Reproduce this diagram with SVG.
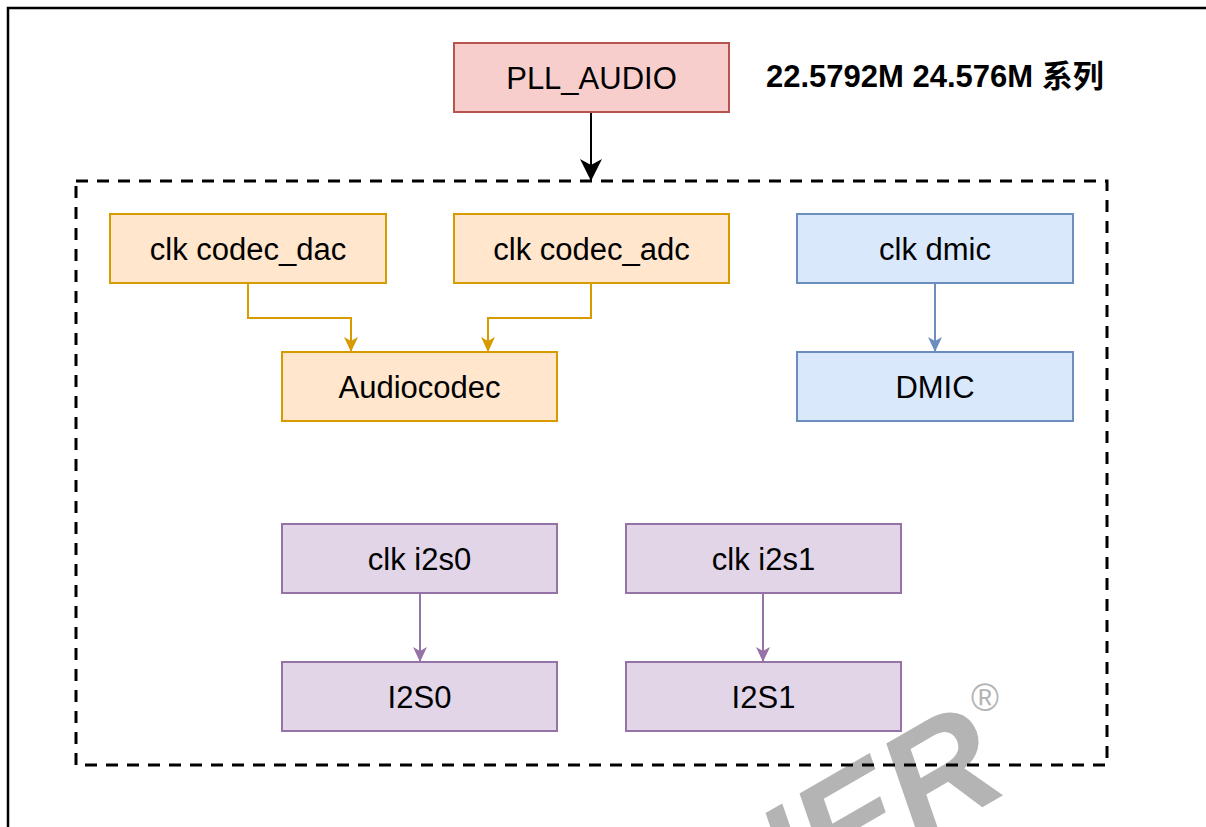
<svg xmlns="http://www.w3.org/2000/svg" width="1206" height="827" viewBox="0 0 1206 827">
<style>
.t{font-family:"Liberation Sans",Arial,Helvetica,sans-serif;font-size:31px;fill:#000;text-anchor:middle}
.title{font-family:"Liberation Sans",Arial,"Noto Sans CJK SC",sans-serif;font-size:31px;font-weight:bold;fill:#000}
.red{fill:#f8cecc;stroke:#b85450;stroke-width:2}
.org{fill:#ffe6cc;stroke:#d79b00;stroke-width:2}
.blu{fill:#dae8fc;stroke:#6c8ebf;stroke-width:2}
.pur{fill:#e1d5e7;stroke:#9673a6;stroke-width:2}
.c{fill:none;stroke-width:2}
.wm{font-family:"Liberation Sans",Arial,sans-serif;font-weight:bold;font-style:italic;fill:#b4b4b4}
</style>
<defs>
<marker id="aBlk" markerUnits="userSpaceOnUse" markerWidth="24" markerHeight="24" refX="22" refY="11" orient="auto" viewBox="0 0 24 22">
<path d="M0,0 L22,11 L0,22 L6,11 Z" fill="#000"/>
</marker>
<marker id="aOrg" markerUnits="userSpaceOnUse" markerWidth="16" markerHeight="16" refX="15" refY="7" orient="auto" viewBox="0 0 16 14">
<path d="M0,0 L15,7 L0,14 L4,7 Z" fill="#d79b00"/>
</marker>
<marker id="aBlu" markerUnits="userSpaceOnUse" markerWidth="16" markerHeight="16" refX="15" refY="7" orient="auto" viewBox="0 0 16 14">
<path d="M0,0 L15,7 L0,14 L4,7 Z" fill="#6c8ebf"/>
</marker>
<marker id="aPur" markerUnits="userSpaceOnUse" markerWidth="16" markerHeight="16" refX="15" refY="7" orient="auto" viewBox="0 0 16 14">
<path d="M0,0 L15,7 L0,14 L4,7 Z" fill="#9673a6"/>
</marker>
</defs>
<rect x="0" y="0" width="1206" height="827" fill="#fff"/>
<rect x="8" y="8" width="1240" height="900" fill="none" stroke="#000" stroke-width="2.5"/>
<g id="watermark">
<text class="wm" font-size="150" text-anchor="end" transform="translate(1012,790) rotate(-30)">ALLWINNER</text>
<text x="985" y="711" font-family="Liberation Sans,Arial,sans-serif" font-size="38" fill="#b4b4b4" text-anchor="middle">®</text>
</g>
<g id="group-frame">
<rect x="76" y="181" width="1031" height="584" fill="none" stroke="#000" stroke-width="3" stroke-dasharray="12 9"/>
</g>
<text class="title" x="766" y="87">22.5792M 24.576M 系列</text>
<g id="connectors">
<path class="c" d="M591,112 V181" stroke="#000" stroke-width="3" marker-end="url(#aBlk)"/>
<path class="c" d="M248,283 V318 H351 V352" stroke="#d79b00" marker-end="url(#aOrg)"/>
<path class="c" d="M591,283 V318 H488 V352" stroke="#d79b00" marker-end="url(#aOrg)"/>
<path class="c" d="M935,283 V352" stroke="#6c8ebf" marker-end="url(#aBlu)"/>
<path class="c" d="M420,593 V662" stroke="#9673a6" marker-end="url(#aPur)"/>
<path class="c" d="M763,593 V662" stroke="#9673a6" marker-end="url(#aPur)"/>
</g>
<g id="pll_audio"><rect class="red" x="454" y="43" width="275" height="69"/><text class="t" x="591.5" y="88.5">PLL_AUDIO</text></g>
<g id="clk_codec_dac"><rect class="org" x="110" y="214" width="276" height="69"/><text class="t" x="248" y="259.5">clk codec_dac</text></g>
<g id="clk_codec_adc"><rect class="org" x="454" y="214" width="275" height="69"/><text class="t" x="591.5" y="259.5">clk codec_adc</text></g>
<g id="clk_dmic"><rect class="blu" x="797" y="214" width="276" height="69"/><text class="t" x="935" y="259.5">clk dmic</text></g>
<g id="audiocodec"><rect class="org" x="282" y="352" width="275" height="69"/><text class="t" x="419.5" y="397.5">Audiocodec</text></g>
<g id="dmic"><rect class="blu" x="797" y="352" width="276" height="69"/><text class="t" x="935" y="397.5">DMIC</text></g>
<g id="clk_i2s0"><rect class="pur" x="282" y="524" width="275" height="69"/><text class="t" x="419.5" y="569.5">clk i2s0</text></g>
<g id="clk_i2s1"><rect class="pur" x="626" y="524" width="275" height="69"/><text class="t" x="763.5" y="569.5">clk i2s1</text></g>
<g id="i2s0"><rect class="pur" x="282" y="662" width="275" height="69"/><text class="t" x="419.5" y="707.5">I2S0</text></g>
<g id="i2s1"><rect class="pur" x="626" y="662" width="275" height="69"/><text class="t" x="763.5" y="707.5">I2S1</text></g>
</svg>
